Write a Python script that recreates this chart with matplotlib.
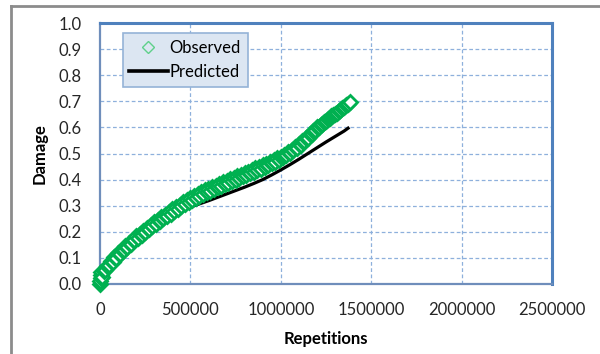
import matplotlib
matplotlib.use("Agg")
import matplotlib.pyplot as plt
from matplotlib.lines import Line2D

plt.rcParams['font.family'] = ['Lato', 'DejaVu Sans']

# Observed data
obs_reps = [0, 2000, 4000, 6000, 8000] + list(range(10000, 1380001, 10000))
obs_damage = [
    0.000, 0.012, 0.022, 0.035, 0.045,
    0.028, 0.049, 0.052, 0.070, 0.072, 0.088, 0.086, 0.103, 0.101,
    0.118, 0.116, 0.131, 0.130, 0.146, 0.143, 0.158, 0.154, 0.170, 0.167,
    0.182, 0.178, 0.193, 0.189, 0.203, 0.200, 0.214, 0.210, 0.225, 0.221,
    0.236, 0.231, 0.246, 0.240, 0.256, 0.251, 0.266, 0.260, 0.276, 0.270,
    0.286, 0.280, 0.296, 0.289, 0.304, 0.298, 0.313, 0.306, 0.321, 0.314,
    0.329, 0.322, 0.337, 0.330, 0.344, 0.337, 0.351, 0.345, 0.359, 0.351,
    0.364, 0.357, 0.370, 0.364, 0.377, 0.370, 0.383, 0.376, 0.389, 0.382,
    0.395, 0.388, 0.401, 0.394, 0.407, 0.400, 0.413, 0.406, 0.419, 0.412,
    0.425, 0.418, 0.431, 0.424, 0.437, 0.430, 0.443, 0.436, 0.449, 0.442,
    0.455, 0.449, 0.461, 0.455, 0.467, 0.462, 0.474, 0.469, 0.481, 0.477,
    0.488, 0.485, 0.496, 0.493, 0.505, 0.502, 0.514, 0.512, 0.524, 0.522,
    0.535, 0.534, 0.546, 0.547, 0.559, 0.561, 0.573, 0.575, 0.587, 0.589,
    0.600, 0.603, 0.611, 0.614, 0.621, 0.625, 0.632, 0.636, 0.643, 0.647,
    0.653, 0.657, 0.663, 0.668, 0.673, 0.679, 0.684, 0.690, 0.697,
]

# Predicted curve
pred_reps = [0, 10000, 25000, 50000, 100000, 150000, 200000, 250000, 300000,
             350000, 400000, 450000, 500000, 550000, 600000, 650000, 700000,
             750000, 800000, 850000, 900000, 950000, 1000000, 1050000, 1100000,
             1150000, 1200000, 1250000, 1300000, 1350000, 1372000]
pred_damage = [0.0, 0.03, 0.05, 0.077, 0.113, 0.144, 0.172, 0.198, 0.222,
               0.245, 0.265, 0.282, 0.295, 0.307, 0.319, 0.332, 0.345,
               0.358, 0.371, 0.385, 0.40, 0.418, 0.437, 0.457, 0.478,
               0.50, 0.522, 0.544, 0.565, 0.586, 0.597]

x_ticks = [0, 500000, 1000000, 1500000, 2000000, 2500000]
y_ticks = [0.0, 0.1, 0.2, 0.3, 0.4, 0.5, 0.6, 0.7, 0.8, 0.9, 1.0]

fig = plt.figure(figsize=(6, 3.54), dpi=100)
ax = fig.add_axes([100/600, 1 - 284/354, 452/600, 261/354])

grid_c = '#8EB0DC'
for xv in x_ticks[1:-1]:
    ax.axvline(xv, color=grid_c, lw=0.9, ls=(0, (3, 2)), zorder=0)
for yv in y_ticks[1:-1]:
    ax.axhline(yv, color=grid_c, lw=0.9, ls=(0, (3, 2)), zorder=0)

ax.plot(pred_reps, pred_damage, color='black', lw=2.3, zorder=2, label='Predicted')
ax.plot(obs_reps, obs_damage, ls='none', marker='D', markersize=7.5,
        mfc='white', mec='#00B050', mew=2.0, zorder=3, label='Observed',
        clip_on=False)

ax.set_xlim(0, 2500000)
ax.set_ylim(0, 1.0)
ax.set_xticks(x_ticks)
ax.set_xticklabels([str(v) for v in x_ticks])
ax.set_yticks(y_ticks)
ax.set_yticklabels([f"{v:.1f}" for v in y_ticks])
ax.tick_params(length=0, labelsize=12, colors='#262626')
ax.tick_params(axis='y', pad=13)
ax.tick_params(axis='x', pad=13)

for side in ['top', 'right']:
    ax.spines[side].set_color('#4F81BD')
    ax.spines[side].set_linewidth(2.2)
for side in ['left', 'bottom']:
    ax.spines[side].set_color('#6F8EBB')
    ax.spines[side].set_linewidth(1.6)

ax.set_xlabel('Repetitions', fontsize=12, fontweight='bold', labelpad=9)
ax.set_ylabel('Damage', fontsize=12, fontweight='bold', labelpad=8)

handles = [
    Line2D([], [], ls='none', marker='D', markersize=6.5, mfc='none',
           mec='#5FD08A', mew=1.0),
    Line2D([], [], color='black', lw=2.6),
]
leg = ax.legend(handles, ['Observed', 'Predicted'], loc='upper left',
                bbox_to_anchor=(0.05, 0.962), fontsize=12, frameon=True,
                fancybox=False, handlelength=2.3, handletextpad=0.12,
                borderpad=0.4, labelspacing=0.5, borderaxespad=0)
leg.get_frame().set_facecolor('#DCE6F2')
leg.get_frame().set_edgecolor('#95B3D7')
leg.get_frame().set_linewidth(1.2)
leg.get_frame().set_alpha(1)

# outer chart border
fig.add_artist(Line2D([11/600, 1.0], [1 - 6/354, 1 - 6/354], color='#8C8C8C', lw=2))
fig.add_artist(Line2D([11/600, 11/600], [0, 1 - 6/354], color='#8C8C8C', lw=2))

fig.savefig('out.png', dpi=100)
